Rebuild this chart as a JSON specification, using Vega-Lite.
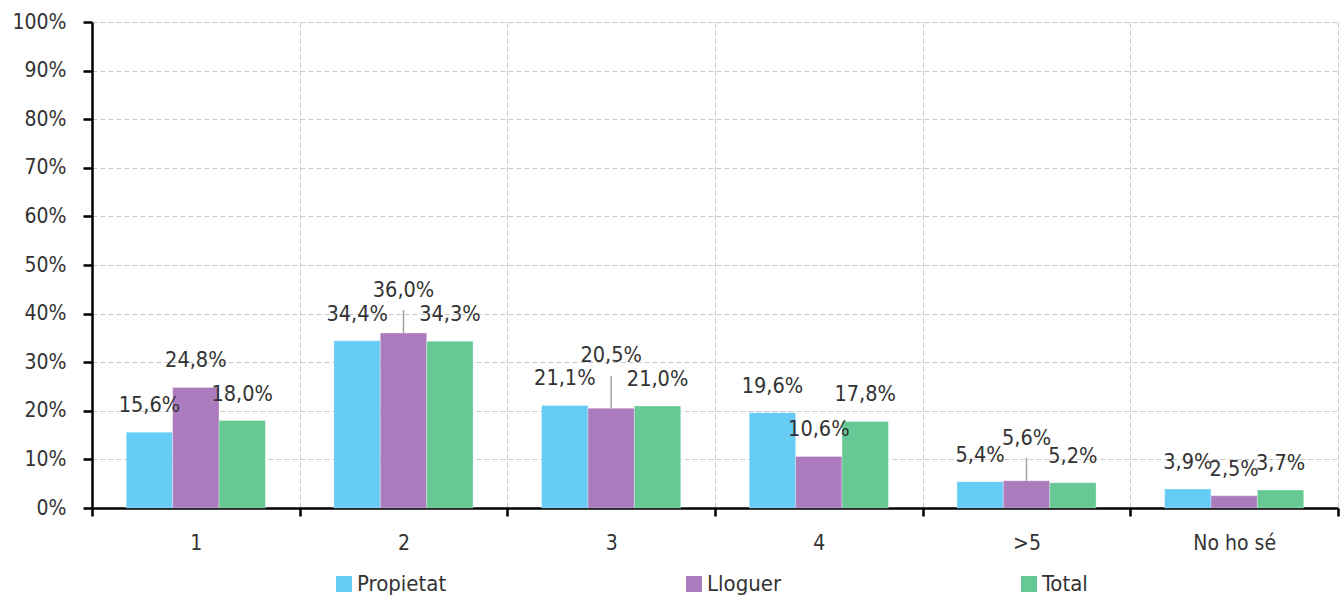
{
  "$schema": "https://vega.github.io/schema/vega-lite/v6.json",
  "autosize": {"type": "none"},
  "width": 1246,
  "height": 486,
  "padding": {"left": 92, "top": 22, "right": 5, "bottom": 88},
  "background": "white",
  "config": {
    "locale": {"number": {"decimal": ",", "thousands": ".", "grouping": [3], "currency": ["", " €"]}},
    "font": "DejaVu Sans Condensed, Roboto, sans-serif",
    "view": {"stroke": null},
    "axis": {"labelFont": "DejaVu Sans Condensed, Roboto, sans-serif", "labelFontSize": 21, "labelColor": "#333333"},
    "legend": {"labelFont": "DejaVu Sans Condensed, Roboto, sans-serif"}
  },
  "data": {"values": [
    {"cat": "1", "serie": "Propietat", "value": 0.156},
    {"cat": "1", "serie": "Lloguer", "value": 0.248},
    {"cat": "1", "serie": "Total", "value": 0.180},
    {"cat": "2", "serie": "Propietat", "value": 0.344},
    {"cat": "2", "serie": "Lloguer", "value": 0.360},
    {"cat": "2", "serie": "Total", "value": 0.343},
    {"cat": "3", "serie": "Propietat", "value": 0.211},
    {"cat": "3", "serie": "Lloguer", "value": 0.205},
    {"cat": "3", "serie": "Total", "value": 0.210},
    {"cat": "4", "serie": "Propietat", "value": 0.196},
    {"cat": "4", "serie": "Lloguer", "value": 0.106},
    {"cat": "4", "serie": "Total", "value": 0.178},
    {"cat": ">5", "serie": "Propietat", "value": 0.054},
    {"cat": ">5", "serie": "Lloguer", "value": 0.056},
    {"cat": ">5", "serie": "Total", "value": 0.052},
    {"cat": "No ho sé", "serie": "Propietat", "value": 0.039},
    {"cat": "No ho sé", "serie": "Lloguer", "value": 0.025},
    {"cat": "No ho sé", "serie": "Total", "value": 0.037}
  ]},
  "encoding": {
    "x": {
      "field": "cat", "type": "nominal", "sort": null,
      "scale": {"paddingInner": 0, "paddingOuter": 0},
      "axis": {
        "title": null, "labelAngle": 0, "labelPadding": 16,
        "tickBand": "extent", "domainColor": "#000000", "domainWidth": 2.5,
        "tickColor": "#000000", "tickWidth": 2.5, "tickSize": 8,
        "grid": true, "gridColor": "#c8c8c8", "gridDash": [5, 3], "gridWidth": 1
      }
    },
    "xOffset": {"field": "serie", "type": "nominal", "sort": ["Propietat", "Lloguer", "Total"], "scale": {"paddingInner": 0, "paddingOuter": 0.739}},
    "y": {
      "field": "value", "type": "quantitative",
      "scale": {"domain": [0, 1], "nice": false},
      "axis": {
        "title": null, "format": ".0%", "values": [0, 0.1, 0.2, 0.3, 0.4, 0.5, 0.6, 0.7, 0.8, 0.9, 1],
        "domainColor": "#000000", "domainWidth": 2.5, "tickColor": "#000000", "tickWidth": 2.5, "tickSize": 9,
        "labelPadding": 17,
        "grid": true, "gridColor": "#c8c8c8", "gridDash": [5, 3], "gridWidth": 1
      }
    }
  },
  "layer": [
    {
      "mark": {"type": "bar", "stroke": "#ffffff", "strokeWidth": 0.5, "strokeOpacity": 0.6},
      "encoding": {
        "color": {
          "field": "serie", "type": "nominal",
          "scale": {"domain": ["Propietat", "Lloguer", "Total"], "range": ["#66ccf5", "#ab7bbd", "#66c994"]},
          "legend": {
            "title": null, "orient": "none", "direction": "horizontal", "columns": 3,
            "legendX": 241, "legendY": 551, "padding": 0,
            "symbolType": "square", "symbolSize": 256, "symbolStrokeWidth": 0, "symbolOffset": 0,
            "labelFontSize": 22, "labelColor": "#333333", "labelOffset": 2,
            "columnPadding": 236, "gridAlign": "none"
          }
        }
      }
    },
    {
      "transform": [{"filter": "!(datum.serie == 'Lloguer' && indexof(['2','3','>5'], datum.cat) >= 0)"}],
      "mark": {"type": "text", "baseline": "middle", "dy": -26, "fontSize": 21.5, "color": "#333333"},
      "encoding": {"text": {"field": "value", "type": "quantitative", "format": ".1%"}}
    },
    {
      "transform": [{"filter": "datum.serie == 'Lloguer' && indexof(['2','3','>5'], datum.cat) >= 0"}],
      "mark": {"type": "text", "baseline": "middle", "dy": {"expr": "datum.cat == '3' ? -52 : -42"}, "fontSize": 21.5, "color": "#333333"},
      "encoding": {"text": {"field": "value", "type": "quantitative", "format": ".1%"}}
    },
    {
      "transform": [{"filter": "datum.serie == 'Lloguer' && indexof(['2','3','>5'], datum.cat) >= 0"}],
      "mark": {"type": "rule", "color": "#a0a0a0", "strokeWidth": 1.5, "y2Offset": {"expr": "datum.cat == '3' ? -32 : -23"}},
      "encoding": {"y2": {"field": "value"}}
    }
  ]
}
